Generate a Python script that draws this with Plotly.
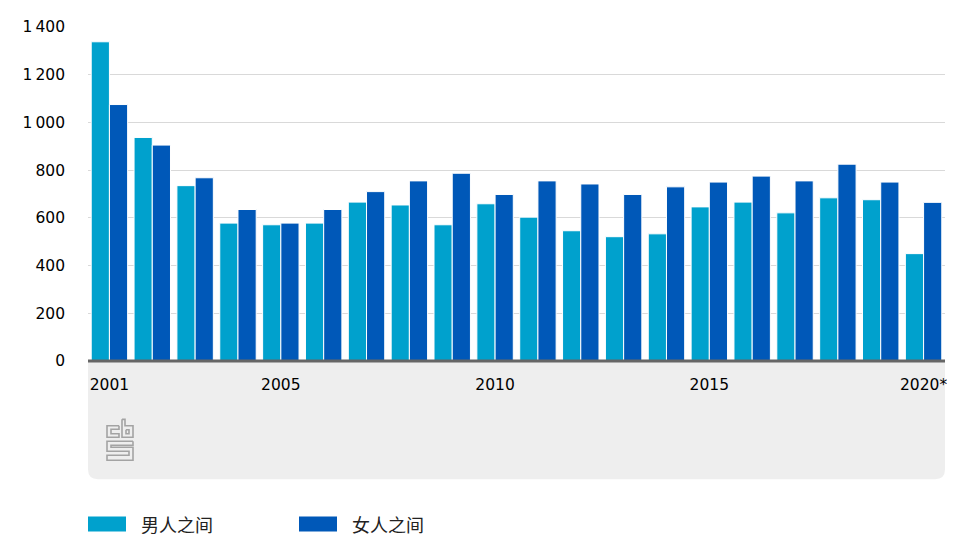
import plotly.graph_objects as go

# pagina heeft 8px body-marge; afmetingen bijgesteld op de foto
W, H = 949, 537
LEFT, RIGHT, TOP, BOTTOM = 88, 945, 25.5, 360.5
years = [str(y) for y in range(2001, 2020)] + ["2020*"]
mannen = [1338, 937, 735, 578, 571, 578, 666, 654, 571, 659, 603, 546, 521, 533, 646, 666, 621, 684, 676, 450]
vrouwen = [1075, 905, 768, 635, 578, 635, 710, 755, 787, 698, 755, 742, 698, 730, 750, 775, 755, 825, 750, 665]
y_ticks = [0, 200, 400, 600, 800, 1000, 1200, 1400]
y_labels = ["0", "200", "400", "600", "800", "1\u2009000", "1\u2009200", "1\u2009400"]
x_labels = ["2001", "2005", "2010", "2015", "2020*"]
legend_names = ["男人之间", "女人之间"]
LICHT, DONKER = "#00a1cd", "#0058b8"
FONT = "DejaVu Sans"


# helpers: pixel in het venster -> paper coordinaten (paper = plotgebied)
def px(x):
    return (x - LEFT) / (RIGHT - LEFT)


def py(y):
    return (BOTTOM - y) / (BOTTOM - TOP)


def rect(x0, y0, x1, y1, color):
    return dict(type="rect", xref="paper", yref="paper", x0=px(x0), x1=px(x1),
                y0=py(y0), y1=py(y1), fillcolor=color, line_width=0, layer="below")


def pad(punten, breedte, kleur):
    d = "M" + " L".join(f"{px(a):.5f},{py(b):.5f}" for a, b in punten)
    return dict(type="path", xref="paper", yref="paper", path=d, fillcolor="rgba(0,0,0,0)",
                line=dict(color=kleur, width=breedte), layer="above")


fig = go.Figure()
fig.add_bar(x=years, y=mannen, name=legend_names[0], marker=dict(color=LICHT, line=dict(color="#ffffff", width=1)))
fig.add_bar(x=years, y=vrouwen, name=legend_names[1], marker=dict(color=DONKER, line=dict(color="#ffffff", width=1)))

# grijs vlak onder de as, afgeronde onderhoeken
x0, x1, y0, y1 = px(88), px(945), py(360), py(479)
rx, ry = px(98) - px(88), py(469) - py(479)
paneel = dict(type="path", xref="paper", yref="paper", layer="below", fillcolor="#eeeeee", line_width=0,
              path=f"M{x0},{y0} L{x1},{y0} L{x1},{y1 + ry} Q{x1},{y1} {x1 - rx},{y1} "
                   f"L{x0 + rx},{y1} Q{x0},{y1} {x0},{y1 + ry} Z")
as_lijn = dict(type="line", xref="paper", yref="paper", x0=0, x1=1, y0=0, y1=0,
               line=dict(color="#666666", width=3), layer="above")

# logo
logo_delen = [
    [(119, 425.5), (107, 425.5), (107, 437), (119, 437), (119, 433.5), (111, 433.5), (111, 429), (119, 429), (119, 425.5)],
    [(122, 419), (125, 419), (125, 425.5), (133, 425.5), (133, 437), (122, 437), (122, 419)],
    [(126, 429.5), (129, 429.5), (129, 433.5), (126, 433.5), (126, 429.5)],
    [(133, 441), (107, 441), (107, 451), (129, 451), (129, 455), (107, 455), (107, 460), (133, 460),
     (133, 447), (111, 447), (111, 445), (133, 445), (133, 441)],
]
logo = [pad(d, 1.6, "#a3a3a3") for d in logo_delen]

shapes = [paneel, as_lijn, rect(88, 516.5, 126, 531.5, LICHT), rect(299, 516.5, 337, 531.5, DONKER)] + logo
annotations = [
    dict(xref="paper", yref="paper", x=px(x), y=py(524), text=t, showarrow=False, xanchor="left", yanchor="middle",
         xshift=-2, font=dict(family="Noto Sans CJK SC", size=18, color="#222222"))
    for x, t in zip([141, 352], legend_names)
]

fig.update_layout(
    width=W, height=H, barmode="group", bargap=0.15, bargroupgap=0, showlegend=False,
    margin=dict(l=80, r=10, t=17.5, b=183.5), plot_bgcolor="#ffffff",
    paper_bgcolor="#ffffff", font=dict(family=FONT, size=15.5, color="#000000"), shapes=shapes, annotations=annotations,
)
fig.update_xaxes(type="category", range=[-0.5, 19.5], tickvals=x_labels, ticktext=x_labels, ticks="",
                 showgrid=False, zeroline=False, showline=False, ticklabelstandoff=12)
fig.update_yaxes(range=[0, 1400], tickvals=y_ticks, ticktext=y_labels, gridcolor="#d9d9d9", gridwidth=1,
                 zeroline=False, ticks="", ticklabelstandoff=22)

fig.write_html("out.html")
